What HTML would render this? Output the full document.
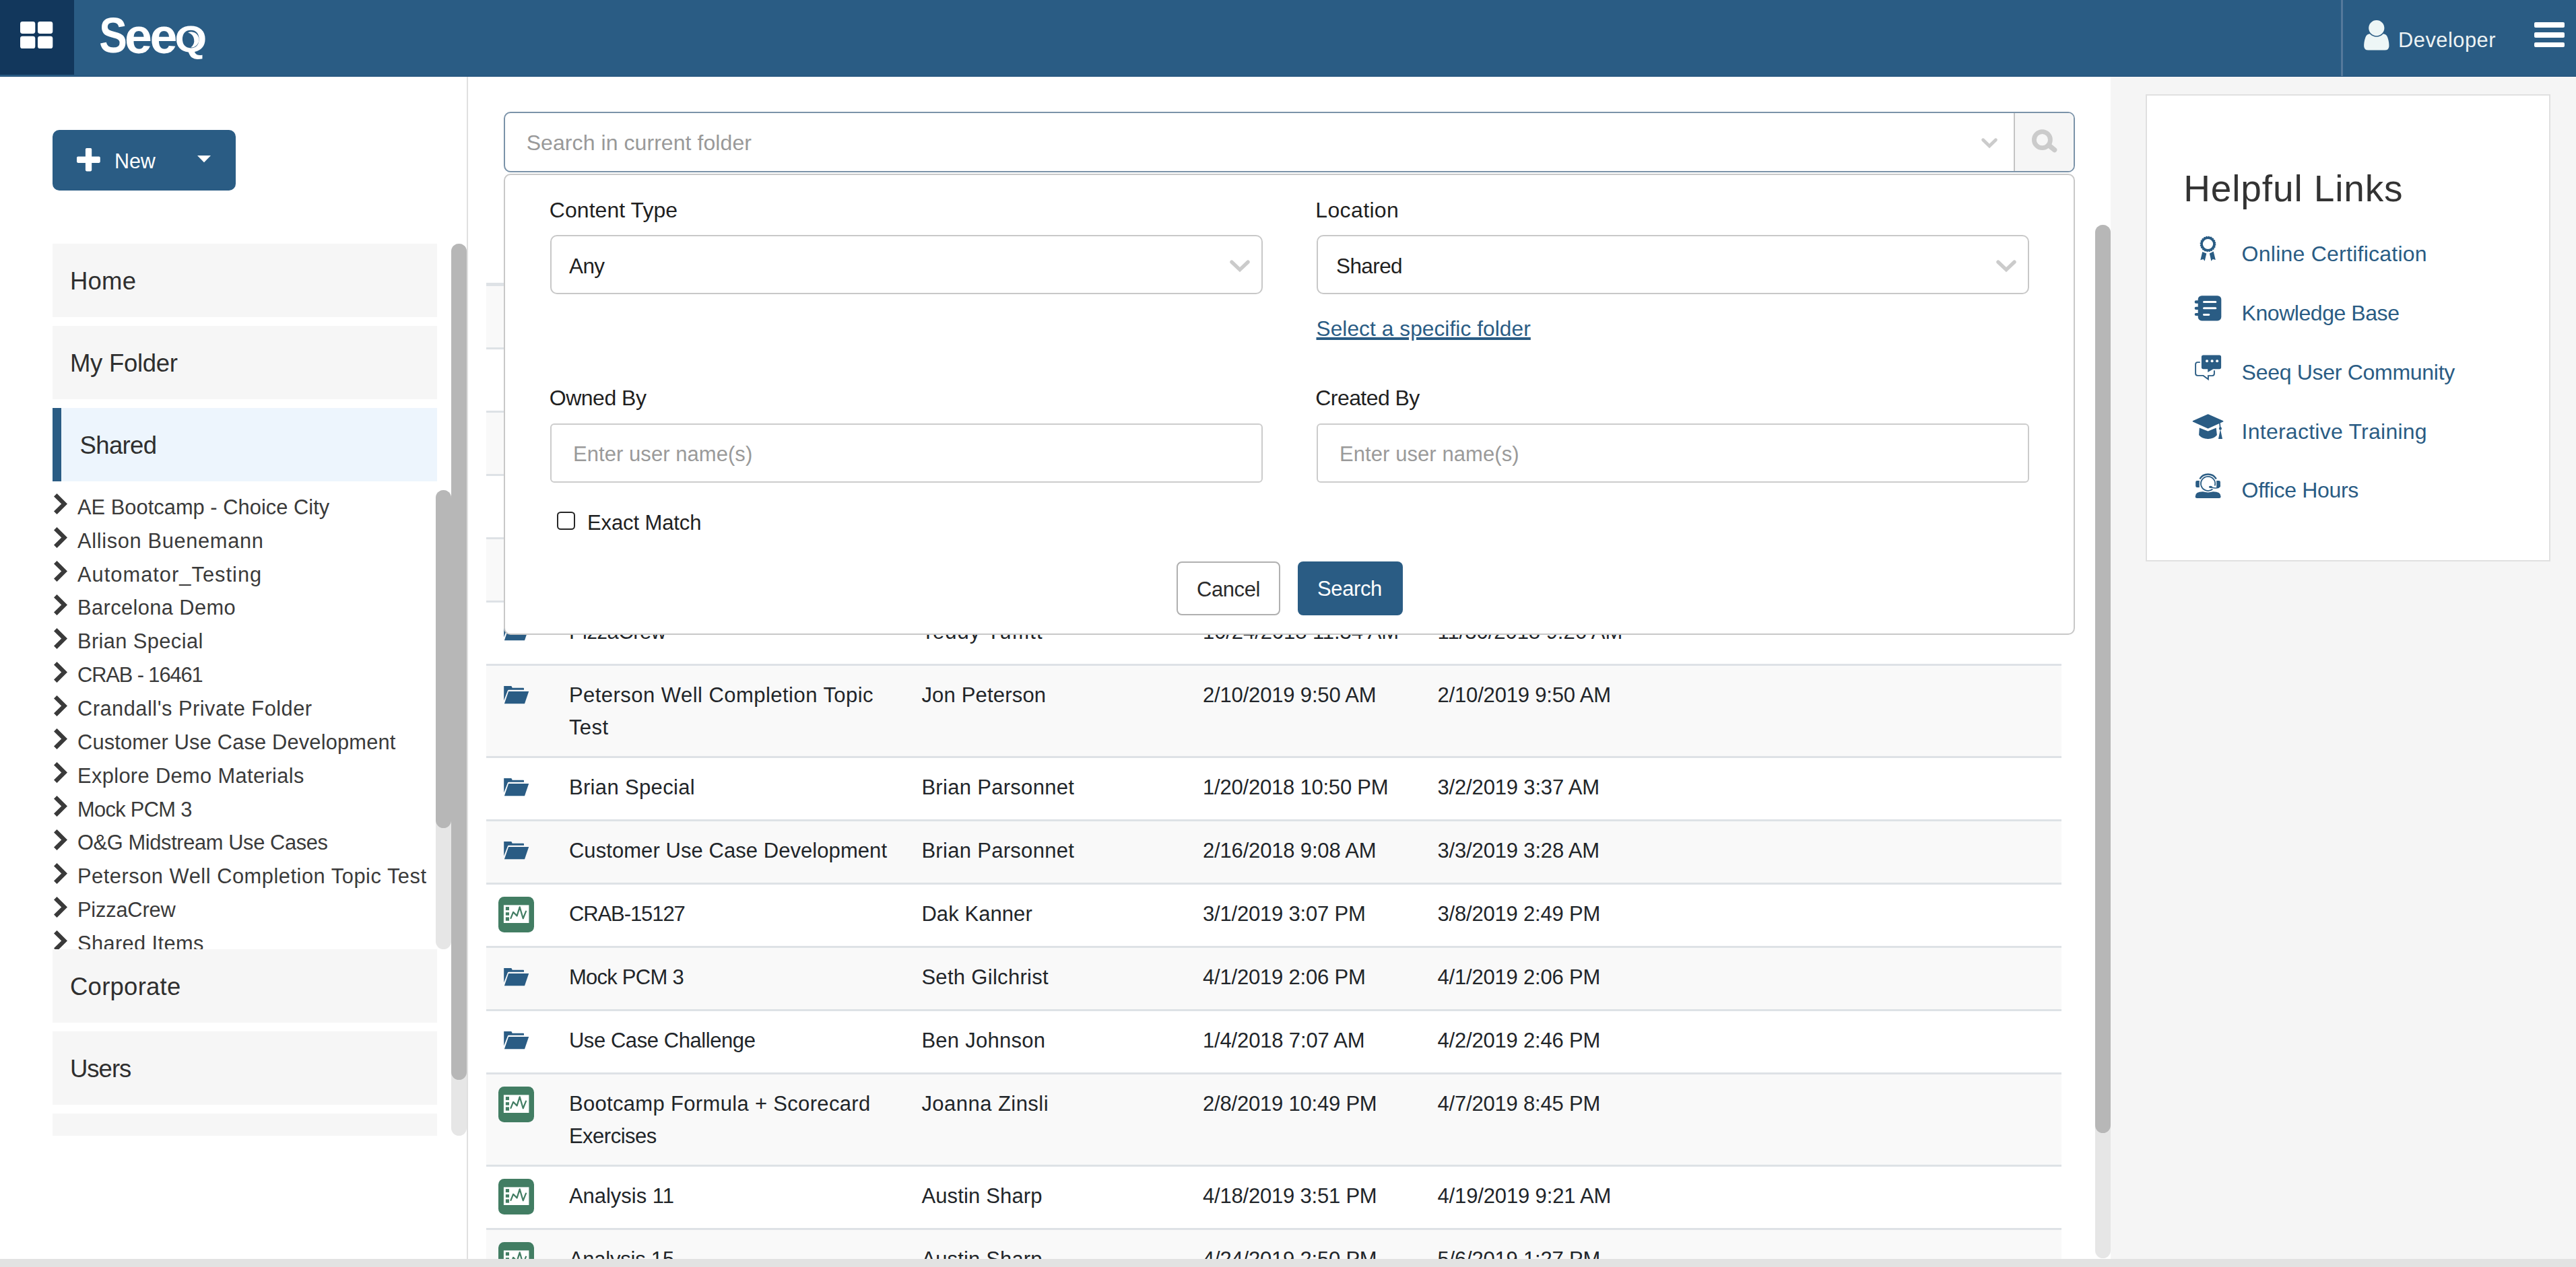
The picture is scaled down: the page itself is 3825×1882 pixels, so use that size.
<!DOCTYPE html>
<html lang="en"><head><meta charset="utf-8"><title>Seeq</title>
<style>
html,body{margin:0;padding:0;overflow:hidden;}
body{width:3825px;height:1882px;overflow:hidden;position:relative;background:#fff;font-family:"Liberation Sans",sans-serif;}
*{box-sizing:border-box;}
svg{position:absolute;overflow:visible;}
.abs{position:absolute;}
header,nav,main,aside,section,form,ul,li,table,tbody,tr,td{position:absolute;left:0;top:0;width:0;height:0;margin:0;padding:0;list-style:none;display:block;}
h2,label,a,p,span.t{margin:0;padding:0;font-weight:normal;display:block;text-decoration:none;}
button{position:absolute;margin:0;padding:0;font:inherit;display:block;cursor:pointer;}
</style></head><body>
<main><section class="tbl"><div style="position:absolute;left:722px;top:420px;width:2339px;height:5px;background:#dee2e6;"></div><table><tbody><tr><td><div style="position:absolute;left:722px;top:425px;width:2339px;height:91px;background:#f9f9f9;"></div><div style="position:absolute;left:722px;top:516px;width:2339px;height:3px;background:#dee2e6;"></div></td></tr><tr><td><div style="position:absolute;left:722px;top:610px;width:2339px;height:3px;background:#dee2e6;"></div></td></tr><tr><td><div style="position:absolute;left:722px;top:613px;width:2339px;height:91px;background:#f9f9f9;"></div><div style="position:absolute;left:722px;top:704px;width:2339px;height:3px;background:#dee2e6;"></div></td></tr><tr><td><div style="position:absolute;left:722px;top:798px;width:2339px;height:3px;background:#dee2e6;"></div></td></tr><tr><td><div style="position:absolute;left:722px;top:801px;width:2339px;height:91px;background:#f9f9f9;"></div><div style="position:absolute;left:722px;top:892px;width:2339px;height:3px;background:#dee2e6;"></div></td></tr><tr><td><div style="position:absolute;left:722px;top:986px;width:2339px;height:3px;background:#dee2e6;"></div><svg style="left:747.8px;top:924.9px" width="38" height="27" viewBox="0 0 38 27"><path fill="#2a5c84" d="M0.2 0H10.6Q11.6 0 12 1L12.6 2.8H29.2Q30 2.8 30 3.6V5.8H7.4Q6.2 5.8 5.8 6.9L0.2 21.6Z"/><path fill="#2a5c84" d="M7.1 8.1H37.2L31 26.2H0.9Z"/></svg></td><td><div style="position:absolute;left:844.9px;top:922.7px;font-size:31px;line-height:31px;color:#212529;white-space:nowrap;letter-spacing:-0.473px;">PizzaCrew</div> </td><td><div style="position:absolute;left:1368.4px;top:922.7px;font-size:31px;line-height:31px;color:#212529;white-space:nowrap;letter-spacing:1.047px;">Teddy Tuffitt</div></td><td><div style="position:absolute;left:1786.0px;top:922.7px;font-size:31px;line-height:31px;color:#212529;white-space:nowrap;letter-spacing:-0.076px;">10/24/2018 11:34 AM</div></td><td><div style="position:absolute;left:2134.5px;top:922.7px;font-size:31px;line-height:31px;color:#212529;white-space:nowrap;letter-spacing:-0.028px;">11/30/2018 9:26 AM</div></td></tr><tr><td><div style="position:absolute;left:722px;top:989px;width:2339px;height:134px;background:#f9f9f9;"></div><div style="position:absolute;left:722px;top:1123px;width:2339px;height:3px;background:#dee2e6;"></div><svg style="left:747.8px;top:1018.9px" width="38" height="27" viewBox="0 0 38 27"><path fill="#2a5c84" d="M0.2 0H10.6Q11.6 0 12 1L12.6 2.8H29.2Q30 2.8 30 3.6V5.8H7.4Q6.2 5.8 5.8 6.9L0.2 21.6Z"/><path fill="#2a5c84" d="M7.1 8.1H37.2L31 26.2H0.9Z"/></svg></td><td><div style="position:absolute;left:844.9px;top:1016.7px;font-size:31px;line-height:31px;color:#212529;white-space:nowrap;letter-spacing:0.465px;">Peterson Well Completion Topic</div> <div style="position:absolute;left:844.9px;top:1065.2px;font-size:31px;line-height:31px;color:#212529;white-space:nowrap;letter-spacing:0.435px;">Test</div> </td><td><div style="position:absolute;left:1368.4px;top:1016.7px;font-size:31px;line-height:31px;color:#212529;white-space:nowrap;letter-spacing:0.186px;">Jon Peterson</div></td><td><div style="position:absolute;left:1786.0px;top:1016.7px;font-size:31px;line-height:31px;color:#212529;white-space:nowrap;letter-spacing:-0.169px;">2/10/2019 9:50 AM</div></td><td><div style="position:absolute;left:2134.5px;top:1016.7px;font-size:31px;line-height:31px;color:#212529;white-space:nowrap;letter-spacing:-0.174px;">2/10/2019 9:50 AM</div></td></tr><tr><td><div style="position:absolute;left:722px;top:1217px;width:2339px;height:3px;background:#dee2e6;"></div><svg style="left:747.8px;top:1155.9px" width="38" height="27" viewBox="0 0 38 27"><path fill="#2a5c84" d="M0.2 0H10.6Q11.6 0 12 1L12.6 2.8H29.2Q30 2.8 30 3.6V5.8H7.4Q6.2 5.8 5.8 6.9L0.2 21.6Z"/><path fill="#2a5c84" d="M7.1 8.1H37.2L31 26.2H0.9Z"/></svg></td><td><div style="position:absolute;left:844.9px;top:1153.7px;font-size:31px;line-height:31px;color:#212529;white-space:nowrap;letter-spacing:0.350px;">Brian Special</div> </td><td><div style="position:absolute;left:1368.4px;top:1153.7px;font-size:31px;line-height:31px;color:#212529;white-space:nowrap;letter-spacing:0.299px;">Brian Parsonnet</div></td><td><div style="position:absolute;left:1786.0px;top:1153.7px;font-size:31px;line-height:31px;color:#212529;white-space:nowrap;letter-spacing:-0.212px;">1/20/2018 10:50 PM</div></td><td><div style="position:absolute;left:2134.5px;top:1153.7px;font-size:31px;line-height:31px;color:#212529;white-space:nowrap;letter-spacing:-0.164px;">3/2/2019 3:37 AM</div></td></tr><tr><td><div style="position:absolute;left:722px;top:1220px;width:2339px;height:91px;background:#f9f9f9;"></div><div style="position:absolute;left:722px;top:1311px;width:2339px;height:3px;background:#dee2e6;"></div><svg style="left:747.8px;top:1249.9px" width="38" height="27" viewBox="0 0 38 27"><path fill="#2a5c84" d="M0.2 0H10.6Q11.6 0 12 1L12.6 2.8H29.2Q30 2.8 30 3.6V5.8H7.4Q6.2 5.8 5.8 6.9L0.2 21.6Z"/><path fill="#2a5c84" d="M7.1 8.1H37.2L31 26.2H0.9Z"/></svg></td><td><div style="position:absolute;left:844.9px;top:1247.7px;font-size:31px;line-height:31px;color:#212529;white-space:nowrap;letter-spacing:0.063px;">Customer Use Case Development</div> </td><td><div style="position:absolute;left:1368.4px;top:1247.7px;font-size:31px;line-height:31px;color:#212529;white-space:nowrap;letter-spacing:0.299px;">Brian Parsonnet</div></td><td><div style="position:absolute;left:1786.0px;top:1247.7px;font-size:31px;line-height:31px;color:#212529;white-space:nowrap;letter-spacing:-0.169px;">2/16/2018 9:08 AM</div></td><td><div style="position:absolute;left:2134.5px;top:1247.7px;font-size:31px;line-height:31px;color:#212529;white-space:nowrap;letter-spacing:-0.164px;">3/3/2019 3:28 AM</div></td></tr><tr><td><div style="position:absolute;left:722px;top:1405px;width:2339px;height:3px;background:#dee2e6;"></div><svg style="left:740px;top:1332px" width="53" height="53" viewBox="0 0 53 53"><rect width="53" height="53" rx="8.5" fill="#427d63"/><rect x="7.9" y="12.4" width="37.5" height="26.6" fill="#fff"/><rect x="10.9" y="15.1" width="5.1" height="5" fill="#427d63"/><rect x="10.9" y="23.2" width="5.1" height="4.5" fill="#427d63"/><rect x="10.9" y="30.4" width="5.1" height="5.3" fill="#427d63"/><path d="M18.5 31.9L22.1 22.9L27.6 28.4L31.7 15.4L36.7 32.3L41 21.7" fill="none" stroke="#427d63" stroke-width="2.2" stroke-linejoin="round" stroke-linecap="round"/></svg></td><td><div style="position:absolute;left:844.9px;top:1341.7px;font-size:31px;line-height:31px;color:#212529;white-space:nowrap;letter-spacing:-1.086px;">CRAB-15127</div> </td><td><div style="position:absolute;left:1368.4px;top:1341.7px;font-size:31px;line-height:31px;color:#212529;white-space:nowrap;letter-spacing:0.068px;">Dak Kanner</div></td><td><div style="position:absolute;left:1786.0px;top:1341.7px;font-size:31px;line-height:31px;color:#212529;white-space:nowrap;letter-spacing:-0.196px;">3/1/2019 3:07 PM</div></td><td><div style="position:absolute;left:2134.5px;top:1341.7px;font-size:31px;line-height:31px;color:#212529;white-space:nowrap;letter-spacing:-0.202px;">3/8/2019 2:49 PM</div></td></tr><tr><td><div style="position:absolute;left:722px;top:1408px;width:2339px;height:91px;background:#f9f9f9;"></div><div style="position:absolute;left:722px;top:1499px;width:2339px;height:3px;background:#dee2e6;"></div><svg style="left:747.8px;top:1437.9px" width="38" height="27" viewBox="0 0 38 27"><path fill="#2a5c84" d="M0.2 0H10.6Q11.6 0 12 1L12.6 2.8H29.2Q30 2.8 30 3.6V5.8H7.4Q6.2 5.8 5.8 6.9L0.2 21.6Z"/><path fill="#2a5c84" d="M7.1 8.1H37.2L31 26.2H0.9Z"/></svg></td><td><div style="position:absolute;left:844.9px;top:1435.7px;font-size:31px;line-height:31px;color:#212529;white-space:nowrap;letter-spacing:-0.742px;">Mock PCM 3</div> </td><td><div style="position:absolute;left:1368.4px;top:1435.7px;font-size:31px;line-height:31px;color:#212529;white-space:nowrap;letter-spacing:0.304px;">Seth Gilchrist</div></td><td><div style="position:absolute;left:1786.0px;top:1435.7px;font-size:31px;line-height:31px;color:#212529;white-space:nowrap;letter-spacing:-0.196px;">4/1/2019 2:06 PM</div></td><td><div style="position:absolute;left:2134.5px;top:1435.7px;font-size:31px;line-height:31px;color:#212529;white-space:nowrap;letter-spacing:-0.202px;">4/1/2019 2:06 PM</div></td></tr><tr><td><div style="position:absolute;left:722px;top:1593px;width:2339px;height:3px;background:#dee2e6;"></div><svg style="left:747.8px;top:1531.9px" width="38" height="27" viewBox="0 0 38 27"><path fill="#2a5c84" d="M0.2 0H10.6Q11.6 0 12 1L12.6 2.8H29.2Q30 2.8 30 3.6V5.8H7.4Q6.2 5.8 5.8 6.9L0.2 21.6Z"/><path fill="#2a5c84" d="M7.1 8.1H37.2L31 26.2H0.9Z"/></svg></td><td><div style="position:absolute;left:844.9px;top:1529.7px;font-size:31px;line-height:31px;color:#212529;white-space:nowrap;letter-spacing:-0.429px;">Use Case Challenge</div> </td><td><div style="position:absolute;left:1368.4px;top:1529.7px;font-size:31px;line-height:31px;color:#212529;white-space:nowrap;letter-spacing:0.274px;">Ben Johnson</div></td><td><div style="position:absolute;left:1786.0px;top:1529.7px;font-size:31px;line-height:31px;color:#212529;white-space:nowrap;letter-spacing:-0.158px;">1/4/2018 7:07 AM</div></td><td><div style="position:absolute;left:2134.5px;top:1529.7px;font-size:31px;line-height:31px;color:#212529;white-space:nowrap;letter-spacing:-0.202px;">4/2/2019 2:46 PM</div></td></tr><tr><td><div style="position:absolute;left:722px;top:1596px;width:2339px;height:134px;background:#f9f9f9;"></div><div style="position:absolute;left:722px;top:1730px;width:2339px;height:3px;background:#dee2e6;"></div><svg style="left:740px;top:1614px" width="53" height="53" viewBox="0 0 53 53"><rect width="53" height="53" rx="8.5" fill="#427d63"/><rect x="7.9" y="12.4" width="37.5" height="26.6" fill="#fff"/><rect x="10.9" y="15.1" width="5.1" height="5" fill="#427d63"/><rect x="10.9" y="23.2" width="5.1" height="4.5" fill="#427d63"/><rect x="10.9" y="30.4" width="5.1" height="5.3" fill="#427d63"/><path d="M18.5 31.9L22.1 22.9L27.6 28.4L31.7 15.4L36.7 32.3L41 21.7" fill="none" stroke="#427d63" stroke-width="2.2" stroke-linejoin="round" stroke-linecap="round"/></svg></td><td><div style="position:absolute;left:844.9px;top:1623.7px;font-size:31px;line-height:31px;color:#212529;white-space:nowrap;letter-spacing:0.325px;">Bootcamp Formula + Scorecard</div> <div style="position:absolute;left:844.9px;top:1672.2px;font-size:31px;line-height:31px;color:#212529;white-space:nowrap;letter-spacing:-0.497px;">Exercises</div> </td><td><div style="position:absolute;left:1368.4px;top:1623.7px;font-size:31px;line-height:31px;color:#212529;white-space:nowrap;letter-spacing:0.457px;">Joanna Zinsli</div></td><td><div style="position:absolute;left:1786.0px;top:1623.7px;font-size:31px;line-height:31px;color:#212529;white-space:nowrap;letter-spacing:-0.205px;">2/8/2019 10:49 PM</div></td><td><div style="position:absolute;left:2134.5px;top:1623.7px;font-size:31px;line-height:31px;color:#212529;white-space:nowrap;letter-spacing:-0.202px;">4/7/2019 8:45 PM</div></td></tr><tr><td><div style="position:absolute;left:722px;top:1824px;width:2339px;height:3px;background:#dee2e6;"></div><svg style="left:740px;top:1751px" width="53" height="53" viewBox="0 0 53 53"><rect width="53" height="53" rx="8.5" fill="#427d63"/><rect x="7.9" y="12.4" width="37.5" height="26.6" fill="#fff"/><rect x="10.9" y="15.1" width="5.1" height="5" fill="#427d63"/><rect x="10.9" y="23.2" width="5.1" height="4.5" fill="#427d63"/><rect x="10.9" y="30.4" width="5.1" height="5.3" fill="#427d63"/><path d="M18.5 31.9L22.1 22.9L27.6 28.4L31.7 15.4L36.7 32.3L41 21.7" fill="none" stroke="#427d63" stroke-width="2.2" stroke-linejoin="round" stroke-linecap="round"/></svg></td><td><div style="position:absolute;left:844.9px;top:1760.7px;font-size:31px;line-height:31px;color:#212529;white-space:nowrap;letter-spacing:-0.021px;">Analysis 11</div> </td><td><div style="position:absolute;left:1368.4px;top:1760.7px;font-size:31px;line-height:31px;color:#212529;white-space:nowrap;letter-spacing:0.150px;">Austin Sharp</div></td><td><div style="position:absolute;left:1786.0px;top:1760.7px;font-size:31px;line-height:31px;color:#212529;white-space:nowrap;letter-spacing:-0.205px;">4/18/2019 3:51 PM</div></td><td><div style="position:absolute;left:2134.5px;top:1760.7px;font-size:31px;line-height:31px;color:#212529;white-space:nowrap;letter-spacing:-0.145px;">4/19/2019 9:21 AM</div></td></tr><tr><td><div style="position:absolute;left:722px;top:1827px;width:2339px;height:91px;background:#f9f9f9;"></div><div style="position:absolute;left:722px;top:1918px;width:2339px;height:3px;background:#dee2e6;"></div><svg style="left:740px;top:1845px" width="53" height="53" viewBox="0 0 53 53"><rect width="53" height="53" rx="8.5" fill="#427d63"/><rect x="7.9" y="12.4" width="37.5" height="26.6" fill="#fff"/><rect x="10.9" y="15.1" width="5.1" height="5" fill="#427d63"/><rect x="10.9" y="23.2" width="5.1" height="4.5" fill="#427d63"/><rect x="10.9" y="30.4" width="5.1" height="5.3" fill="#427d63"/><path d="M18.5 31.9L22.1 22.9L27.6 28.4L31.7 15.4L36.7 32.3L41 21.7" fill="none" stroke="#427d63" stroke-width="2.2" stroke-linejoin="round" stroke-linecap="round"/></svg></td><td><div style="position:absolute;left:844.9px;top:1854.7px;font-size:31px;line-height:31px;color:#212529;white-space:nowrap;letter-spacing:-0.230px;">Analysis 15</div> </td><td><div style="position:absolute;left:1368.4px;top:1854.7px;font-size:31px;line-height:31px;color:#212529;white-space:nowrap;letter-spacing:0.150px;">Austin Sharp</div></td><td><div style="position:absolute;left:1786.0px;top:1854.7px;font-size:31px;line-height:31px;color:#212529;white-space:nowrap;letter-spacing:-0.205px;">4/24/2019 2:50 PM</div></td><td><div style="position:absolute;left:2134.5px;top:1854.7px;font-size:31px;line-height:31px;color:#212529;white-space:nowrap;letter-spacing:-0.202px;">5/6/2019 1:27 PM</div></td></tr></tbody></table></section><div style="position:absolute;left:3111px;top:334px;width:23px;height:1535px;background:#e6e6e6;border-radius:11.5px;"></div><div style="position:absolute;left:3111px;top:334px;width:23px;height:1349px;background:#b7b7b7;border-radius:11.5px;"></div><form><div class="abs" style="left:748px;top:166px;width:2333px;height:89.7px;border:2px solid #7b93a9;border-radius:10px;background:#fff;overflow:hidden;"><div class="abs" style="left:2240px;top:0;width:91px;height:86px;background:#f6f6f6;border-left:2px solid #c4c4c4;"></div></div><div style="position:absolute;left:781.7px;top:195.7px;font-size:32px;line-height:32px;color:#999;white-space:nowrap;letter-spacing:0.070px;">Search in current folder</div><svg style="left:2942px;top:204.5px" width="24" height="17" viewBox="0 0 24 17"><path d="M2.6 2.8L12 12L21.4 2.8" fill="none" stroke="#cbcbcb" stroke-width="4.8" stroke-linecap="round"/></svg><svg style="left:3016px;top:192px" width="39" height="36" viewBox="0 0 39 36"><circle cx="16.4" cy="15.7" r="12" fill="none" stroke="#cbcbcb" stroke-width="6.8"/><path d="M26 23.6L34.6 30.6" stroke="#cbcbcb" stroke-width="7.4" stroke-linecap="round"/></svg><div class="abs" style="left:748px;top:258.3px;width:2333px;height:684.7px;border:2px solid #c8c8c8;border-radius:10px;background:#fff;"></div><label style="position:absolute;left:815.8px;top:295.9px;font-size:32px;line-height:32px;color:#1f1f1f;white-space:nowrap;letter-spacing:0.053px;">Content Type</label><label style="position:absolute;left:1953.3px;top:296.2px;font-size:32px;line-height:32px;color:#1f1f1f;white-space:nowrap;letter-spacing:0.364px;">Location</label><div style="position:absolute;left:816.5px;top:349px;width:1058px;height:88px;border:2px solid #c8c8c8;border-radius:10px;background:#fff;"></div><div style="position:absolute;left:1954.5px;top:349px;width:1058px;height:88px;border:2px solid #c8c8c8;border-radius:10px;background:#fff;"></div><div style="position:absolute;left:845.0px;top:379.9px;font-size:31.5px;line-height:31.5px;color:#1f1f1f;white-space:nowrap;letter-spacing:-0.627px;">Any</div><div style="position:absolute;left:1984.0px;top:379.9px;font-size:31.5px;line-height:31.5px;color:#1f1f1f;white-space:nowrap;letter-spacing:-0.596px;">Shared</div><svg style="left:1826px;top:386px" width="30" height="19" viewBox="0 0 30 19"><path d="M3 3.2L15 14.6L27 3.2" fill="none" stroke="#cbcbcb" stroke-width="5.4" stroke-linecap="round"/></svg><svg style="left:2964px;top:386px" width="30" height="19" viewBox="0 0 30 19"><path d="M3 3.2L15 14.6L27 3.2" fill="none" stroke="#cbcbcb" stroke-width="5.4" stroke-linecap="round"/></svg><a style="position:absolute;left:1954.5px;top:472.9px;font-size:31.6px;line-height:31.6px;color:#2a5c84;white-space:nowrap;letter-spacing:0.092px;text-decoration:underline;text-decoration-thickness:3.5px;text-underline-offset:2.3px;">Select a specific folder</a><label style="position:absolute;left:815.8px;top:574.9px;font-size:32px;line-height:32px;color:#1f1f1f;white-space:nowrap;letter-spacing:-0.503px;">Owned By</label><label style="position:absolute;left:1953.3px;top:575.2px;font-size:32px;line-height:32px;color:#1f1f1f;white-space:nowrap;letter-spacing:-0.578px;">Created By</label><div style="position:absolute;left:816.5px;top:628.5px;width:1058px;height:88px;border:2px solid #cccccc;border-radius:6px;background:#fff;"></div><div style="position:absolute;left:1954.5px;top:628.5px;width:1058px;height:88px;border:2px solid #cccccc;border-radius:6px;background:#fff;"></div><div style="position:absolute;left:851.0px;top:659.3px;font-size:31px;line-height:31px;color:#9a9a9a;white-space:nowrap;letter-spacing:0.054px;">Enter user name(s)</div><div style="position:absolute;left:1989.0px;top:659.3px;font-size:31px;line-height:31px;color:#9a9a9a;white-space:nowrap;letter-spacing:0.076px;">Enter user name(s)</div><div style="position:absolute;left:827.3px;top:760px;width:27px;height:27px;border:2.5px solid #262626;border-radius:5.5px;background:#fff;"></div><label style="position:absolute;left:872.0px;top:760.8px;font-size:31px;line-height:31px;color:#1f1f1f;white-space:nowrap;letter-spacing:-0.106px;">Exact Match</label><button style="left:1747px;top:834px;width:154px;height:80px;border:2px solid #b0b0b0;border-radius:8px;background:#fff;"><span class="t" style="position:absolute;left:28.0px;top:23.5px;font-size:31px;line-height:31px;color:#2b2b2b;white-space:nowrap;letter-spacing:-0.417px;">Cancel</span></button><button style="left:1927px;top:834px;width:156px;height:80px;border:0;border-radius:8px;background:#2a5c84;"><span class="t" style="position:absolute;left:29.0px;top:25.4px;font-size:31px;line-height:31px;color:#fff;white-space:nowrap;letter-spacing:-0.372px;">Search</span></button></form></main><nav><div style="position:absolute;left:693px;top:114px;width:2px;height:1756px;background:#e0e0e0;"></div><button style="left:78px;top:193px;width:272px;height:90px;background:#2a5c84;border:0;border-radius:10px;"><svg style="left:36px;top:27px" width="35" height="35" viewBox="0 0 35 35"><rect x="12.9" y="0" width="9.3" height="34.4" rx="1.8" fill="#fff"/><rect x="0" y="12.6" width="34.8" height="9.3" rx="1.8" fill="#fff"/></svg><span class="t" style="position:absolute;left:92.0px;top:31.2px;font-size:30.5px;line-height:30.5px;color:#fff;white-space:nowrap;letter-spacing:-0.072px;">New</span><svg style="left:215px;top:38px" width="20" height="11" viewBox="0 0 20 11"><path d="M0 0H20L10 10.2Z" fill="#fff"/></svg></button><div style="position:absolute;left:78px;top:362px;width:571px;height:109px;background:#f6f6f6;"></div><a style="position:absolute;left:104.0px;top:399.8px;font-size:36.5px;line-height:36.5px;color:#2f2f2f;white-space:nowrap;letter-spacing:0.231px;">Home</a><div style="position:absolute;left:78px;top:484px;width:571px;height:109px;background:#f6f6f6;"></div><a style="position:absolute;left:104.0px;top:521.8px;font-size:36.5px;line-height:36.5px;color:#2f2f2f;white-space:nowrap;letter-spacing:-0.296px;">My Folder</a><div style="position:absolute;left:78px;top:1410px;width:571px;height:109px;background:#f6f6f6;"></div><a style="position:absolute;left:104.0px;top:1447.8px;font-size:36.5px;line-height:36.5px;color:#2f2f2f;white-space:nowrap;letter-spacing:0.243px;">Corporate</a><div style="position:absolute;left:78px;top:1532px;width:571px;height:109px;background:#f6f6f6;"></div><a style="position:absolute;left:104.0px;top:1569.8px;font-size:36.5px;line-height:36.5px;color:#2f2f2f;white-space:nowrap;letter-spacing:-1.006px;">Users</a><div style="position:absolute;left:78px;top:1654px;width:571px;height:33px;background:#f6f6f6;"></div><div style="position:absolute;left:78px;top:606px;width:571px;height:109px;background:#edf5fd;border-left:13px solid #2a5c84;"></div><a style="position:absolute;left:118.5px;top:643.8px;font-size:36.5px;line-height:36.5px;color:#2f2f2f;white-space:nowrap;letter-spacing:-0.634px;">Shared</a><ul style="left:0;top:715px;width:660px;height:695px;overflow:hidden;"><li><svg style="left:79.5px;top:18.3px" width="20" height="31" viewBox="0 0 20 31"><path d="M4.5 0L20 15.4L4.5 30.9L0 26.5L11.2 15.4L0 4.4Z" fill="#3a3a3a"/></svg><a style="position:absolute;left:115.0px;top:23.7px;font-size:30.8px;line-height:30.8px;color:#3a3a3a;white-space:nowrap;letter-spacing:0.042px;">AE Bootcamp - Choice City</a></li><li><svg style="left:79.5px;top:68.2px" width="20" height="31" viewBox="0 0 20 31"><path d="M4.5 0L20 15.4L4.5 30.9L0 26.5L11.2 15.4L0 4.4Z" fill="#3a3a3a"/></svg><a style="position:absolute;left:115.0px;top:73.6px;font-size:30.8px;line-height:30.8px;color:#3a3a3a;white-space:nowrap;letter-spacing:0.654px;">Allison Buenemann</a></li><li><svg style="left:79.5px;top:118.0px" width="20" height="31" viewBox="0 0 20 31"><path d="M4.5 0L20 15.4L4.5 30.9L0 26.5L11.2 15.4L0 4.4Z" fill="#3a3a3a"/></svg><a style="position:absolute;left:115.0px;top:123.5px;font-size:30.8px;line-height:30.8px;color:#3a3a3a;white-space:nowrap;letter-spacing:1.025px;">Automator_Testing</a></li><li><svg style="left:79.5px;top:167.9px" width="20" height="31" viewBox="0 0 20 31"><path d="M4.5 0L20 15.4L4.5 30.9L0 26.5L11.2 15.4L0 4.4Z" fill="#3a3a3a"/></svg><a style="position:absolute;left:115.0px;top:173.3px;font-size:30.8px;line-height:30.8px;color:#3a3a3a;white-space:nowrap;letter-spacing:0.401px;">Barcelona Demo</a></li><li><svg style="left:79.5px;top:217.8px" width="20" height="31" viewBox="0 0 20 31"><path d="M4.5 0L20 15.4L4.5 30.9L0 26.5L11.2 15.4L0 4.4Z" fill="#3a3a3a"/></svg><a style="position:absolute;left:115.0px;top:223.2px;font-size:30.8px;line-height:30.8px;color:#3a3a3a;white-space:nowrap;letter-spacing:0.402px;">Brian Special</a></li><li><svg style="left:79.5px;top:267.6px" width="20" height="31" viewBox="0 0 20 31"><path d="M4.5 0L20 15.4L4.5 30.9L0 26.5L11.2 15.4L0 4.4Z" fill="#3a3a3a"/></svg><a style="position:absolute;left:115.0px;top:273.1px;font-size:30.8px;line-height:30.8px;color:#3a3a3a;white-space:nowrap;letter-spacing:-1.082px;">CRAB - 16461</a></li><li><svg style="left:79.5px;top:317.5px" width="20" height="31" viewBox="0 0 20 31"><path d="M4.5 0L20 15.4L4.5 30.9L0 26.5L11.2 15.4L0 4.4Z" fill="#3a3a3a"/></svg><a style="position:absolute;left:115.0px;top:322.9px;font-size:30.8px;line-height:30.8px;color:#3a3a3a;white-space:nowrap;letter-spacing:0.495px;">Crandall's Private Folder</a></li><li><svg style="left:79.5px;top:367.4px" width="20" height="31" viewBox="0 0 20 31"><path d="M4.5 0L20 15.4L4.5 30.9L0 26.5L11.2 15.4L0 4.4Z" fill="#3a3a3a"/></svg><a style="position:absolute;left:115.0px;top:372.8px;font-size:30.8px;line-height:30.8px;color:#3a3a3a;white-space:nowrap;letter-spacing:0.180px;">Customer Use Case Development</a></li><li><svg style="left:79.5px;top:417.3px" width="20" height="31" viewBox="0 0 20 31"><path d="M4.5 0L20 15.4L4.5 30.9L0 26.5L11.2 15.4L0 4.4Z" fill="#3a3a3a"/></svg><a style="position:absolute;left:115.0px;top:422.7px;font-size:30.8px;line-height:30.8px;color:#3a3a3a;white-space:nowrap;letter-spacing:0.367px;">Explore Demo Materials</a></li><li><svg style="left:79.5px;top:467.1px" width="20" height="31" viewBox="0 0 20 31"><path d="M4.5 0L20 15.4L4.5 30.9L0 26.5L11.2 15.4L0 4.4Z" fill="#3a3a3a"/></svg><a style="position:absolute;left:115.0px;top:472.6px;font-size:30.8px;line-height:30.8px;color:#3a3a3a;white-space:nowrap;letter-spacing:-0.657px;">Mock PCM 3</a></li><li><svg style="left:79.5px;top:517.0px" width="20" height="31" viewBox="0 0 20 31"><path d="M4.5 0L20 15.4L4.5 30.9L0 26.5L11.2 15.4L0 4.4Z" fill="#3a3a3a"/></svg><a style="position:absolute;left:115.0px;top:522.4px;font-size:30.8px;line-height:30.8px;color:#3a3a3a;white-space:nowrap;letter-spacing:-0.362px;">O&amp;G Midstream Use Cases</a></li><li><svg style="left:79.5px;top:566.9px" width="20" height="31" viewBox="0 0 20 31"><path d="M4.5 0L20 15.4L4.5 30.9L0 26.5L11.2 15.4L0 4.4Z" fill="#3a3a3a"/></svg><a style="position:absolute;left:115.0px;top:572.3px;font-size:30.8px;line-height:30.8px;color:#3a3a3a;white-space:nowrap;letter-spacing:0.533px;">Peterson Well Completion Topic Test</a></li><li><svg style="left:79.5px;top:616.7px" width="20" height="31" viewBox="0 0 20 31"><path d="M4.5 0L20 15.4L4.5 30.9L0 26.5L11.2 15.4L0 4.4Z" fill="#3a3a3a"/></svg><a style="position:absolute;left:115.0px;top:622.2px;font-size:30.8px;line-height:30.8px;color:#3a3a3a;white-space:nowrap;letter-spacing:-0.188px;">PizzaCrew</a></li><li><svg style="left:79.5px;top:666.6px" width="20" height="31" viewBox="0 0 20 31"><path d="M4.5 0L20 15.4L4.5 30.9L0 26.5L11.2 15.4L0 4.4Z" fill="#3a3a3a"/></svg><a style="position:absolute;left:115.0px;top:672.0px;font-size:30.8px;line-height:30.8px;color:#3a3a3a;white-space:nowrap;letter-spacing:0.386px;">Shared Items</a></li></ul><div style="position:absolute;left:647px;top:727.8px;width:23px;height:682.2px;background:#e6e6e6;border-radius:11.5px;"></div><div style="position:absolute;left:647px;top:727.8px;width:23px;height:502px;background:#b7b7b7;border-radius:11.5px;"></div><div style="position:absolute;left:670px;top:362px;width:23px;height:1325px;background:#e6e6e6;border-radius:11.5px;"></div><div style="position:absolute;left:670px;top:362px;width:23px;height:1242px;background:#b7b7b7;border-radius:11.5px;"></div></nav><header><div style="position:absolute;left:0px;top:0px;width:3825px;height:114px;background:#2a5c84;border-bottom:1.4px solid #1d4e79;"></div><div style="position:absolute;left:0px;top:0px;width:110px;height:110.8px;background:#12375c;"></div><svg style="left:30px;top:32px" width="48" height="40" viewBox="0 0 48 40"><g fill="#fff"><rect x="0" y="0" width="22.3" height="18" rx="3.4"/><rect x="26" y="0" width="22.3" height="18" rx="3.4"/><rect x="0" y="21.8" width="22.3" height="18.3" rx="3.4"/><rect x="26" y="21.8" width="22.3" height="18.3" rx="3.4"/></g></svg><svg style="left:148px;top:20px" width="165" height="70" viewBox="0 0 165 70"><text fill="#fff" font-family="Liberation Sans, sans-serif" font-weight="bold"><tspan x="-0.86" y="58.4" font-size="74.5" textLength="41.6" lengthAdjust="spacingAndGlyphs">S</tspan><tspan x="37.1" y="58.7" font-size="74.5" textLength="40.9" lengthAdjust="spacingAndGlyphs">e</tspan><tspan x="74.5" y="58.7" font-size="74.5" textLength="40.9" lengthAdjust="spacingAndGlyphs">e</tspan><tspan x="111.5" y="57" font-size="56" textLength="47.6" lengthAdjust="spacingAndGlyphs">Q</tspan></text><path d="M131.1 28.2A11.7 11.7 0 1 1 135.3 50.6A12.8 12.8 0 0 0 131.1 28.2Z" fill="#fff"/></svg><div style="position:absolute;left:3476px;top:0px;width:3px;height:112.6px;background:#55799b;"></div><svg style="left:3510px;top:29.5px" width="38" height="45" viewBox="0 0 38 45"><circle cx="18.8" cy="11.6" r="11.6" fill="#edf6f6"/><path d="M8.9 20.3A13.2 13.2 0 0 0 28.7 20.3Q33.6 20.4 35.4 26C37.2 31 37.6 36 37.4 39Q37 44.6 31 44.6H6.6Q0.6 44.6 0.2 39C0 36 0.4 31 2.2 26Q4 20.4 8.9 20.3Z" fill="#edf6f6"/></svg><div style="position:absolute;left:3561.0px;top:44.9px;font-size:30.8px;line-height:30.8px;color:#edf3f4;white-space:nowrap;letter-spacing:0.512px;">Developer</div><div style="position:absolute;left:3763.2px;top:33px;width:44.8px;height:7.7px;background:#fff;border-radius:2px;"></div><div style="position:absolute;left:3763.2px;top:48px;width:44.8px;height:7.7px;background:#fff;border-radius:2px;"></div><div style="position:absolute;left:3763.2px;top:62.5px;width:44.8px;height:7.7px;background:#fff;border-radius:2px;"></div></header><aside><div style="position:absolute;left:3134px;top:114px;width:691px;height:1756px;background:#f5f5f5;"></div><div style="position:absolute;left:3186px;top:140px;width:600.6px;height:694px;background:#fff;border:2px solid #e0e0e0;"></div><h2 style="position:absolute;left:3242.2px;top:252.6px;font-size:55px;line-height:55px;color:#333;white-space:nowrap;letter-spacing:0.878px;">Helpful Links</h2><a style="position:absolute;left:3328.6px;top:360.7px;font-size:32px;line-height:32px;color:#2a5c84;white-space:nowrap;letter-spacing:0.248px;">Online Certification</a><a style="position:absolute;left:3328.6px;top:448.9px;font-size:32px;line-height:32px;color:#2a5c84;white-space:nowrap;letter-spacing:-0.448px;">Knowledge Base</a><a style="position:absolute;left:3328.6px;top:536.9px;font-size:32px;line-height:32px;color:#2a5c84;white-space:nowrap;letter-spacing:-0.289px;">Seeq User Community</a><a style="position:absolute;left:3328.6px;top:624.5px;font-size:32px;line-height:32px;color:#2a5c84;white-space:nowrap;letter-spacing:0.247px;">Interactive Training</a><a style="position:absolute;left:3328.6px;top:712.3px;font-size:32px;line-height:32px;color:#2a5c84;white-space:nowrap;letter-spacing:-0.329px;">Office Hours</a><svg style="left:3266px;top:350px" width="26" height="40" viewBox="0 0 26 40"><circle cx="12.5" cy="12.5" r="9.3" fill="none" stroke="#2a5c84" stroke-width="3.4"/><circle cx="12.5" cy="12.5" r="11" fill="none" stroke="#2a5c84" stroke-width="1.7" stroke-dasharray="2.1 1.355"/><path fill="#2a5c84" d="M4.3 23.9L10.3 26.5L7.7 37.8L5.5 35L1.3 36.2Z"/><path fill="#2a5c84" d="M14.8 26.5L20.7 23.6L23.8 36L19.7 35L17.4 37.8Z"/></svg><svg style="left:3258px;top:439px" width="42" height="38" viewBox="0 0 42 38"><rect x="5.7" y="0.2" width="34.6" height="37.2" rx="5.6" fill="#2a5c84"/><rect x="0.7" y="7.3" width="8" height="4.5" rx="2" fill="#2a5c84"/><rect x="0.7" y="16.8" width="8" height="4.3" rx="2" fill="#2a5c84"/><rect x="0.7" y="26" width="8" height="4.1" rx="2" fill="#2a5c84"/><rect x="13" y="7.9" width="20.3" height="3" rx="1.5" fill="#fff"/><rect x="13" y="17.2" width="20.3" height="3" rx="1.5" fill="#fff"/><rect x="13" y="27" width="10.3" height="2.9" rx="1.45" fill="#fff"/></svg><svg style="left:3258px;top:526px" width="42" height="40" viewBox="0 0 42 40"><path fill="none" stroke="#2a5c84" stroke-width="1.9" d="M8.8 12.1H5.2Q2.1 12.1 2.1 15.2V28.8Q2.1 31.9 5.2 31.9H13.5L20.9 37.3V32.1H26.8Q29.9 32.1 29.9 29V24.3"/><path fill="#2a5c84" d="M13.6 1.4H37.4Q40.1 1.4 40.1 4.1V19.5Q40.1 22.2 37.4 22.2H28.2L20.2 26.9V22.2H13.6Q10.9 22.2 10.9 19.5V4.1Q10.9 1.4 13.6 1.4Z"/><circle cx="19" cy="10.3" r="2" fill="#fff"/><circle cx="26.6" cy="10.3" r="2" fill="#fff"/><circle cx="34.1" cy="10.3" r="2" fill="#fff"/></svg><svg style="left:3254px;top:614px" width="50" height="40" viewBox="0 0 50 40"><path fill="#2a5c84" stroke="#2a5c84" stroke-width="1.6" stroke-linejoin="round" d="M24.6 2L46.6 11.8L24.6 21.7L2.5 11.8Z"/><path fill="#2a5c84" d="M11.8 21.4L24.6 26.6L36.7 21.4L37.9 32.2Q33 38 24.6 37.9Q16 38 11.1 32.2Z"/><path fill="none" stroke="#2a5c84" stroke-width="1.7" d="M41.8 13.5L42.9 23"/><ellipse cx="42.9" cy="22.5" rx="2" ry="2.3" fill="#2a5c84"/><path fill="#2a5c84" d="M42.9 23.5L46 37.9H40Z"/></svg><svg style="left:3258px;top:702px" width="42" height="40" viewBox="0 0 42 40"><path fill="none" stroke="#2a5c84" stroke-width="1.8" d="M27.41 24.5A10.6 10.6 0 1 1 30.68 19.6"/><path fill="none" stroke="#2a5c84" stroke-width="2.5" d="M8.4 9.4A14.3 14.3 0 0 1 32.8 9.4"/><path fill="#2a5c84" d="M4.2 11.9H7.8V21.9H4.2Q2.2 21.9 2.2 19.9V13.9Q2.2 11.9 4.2 11.9Z"/><path fill="#2a5c84" d="M33.2 11.9H36.9Q38.9 11.9 38.9 13.9V19.9Q38.9 21.9 36.9 21.9H33.2Z"/><path fill="none" stroke="#2a5c84" stroke-width="1.5" stroke-linecap="round" d="M25.4 21.8Q32 24 36.3 22.3Q38.2 21.5 38.2 19"/><ellipse cx="24.4" cy="21.3" rx="2.6" ry="1.6" fill="#2a5c84"/><path fill="#2a5c84" d="M1.7 35.5Q1.7 28.3 13 28.3Q20.6 30.6 28.2 28.3Q39.6 28.3 39.6 35.5Q39.6 38 37 38H4.3Q1.7 38 1.7 35.5Z"/></svg></aside><div style="position:absolute;left:0px;top:1870px;width:3825px;height:12px;background:#e2e2e2;"></div></body></html>
